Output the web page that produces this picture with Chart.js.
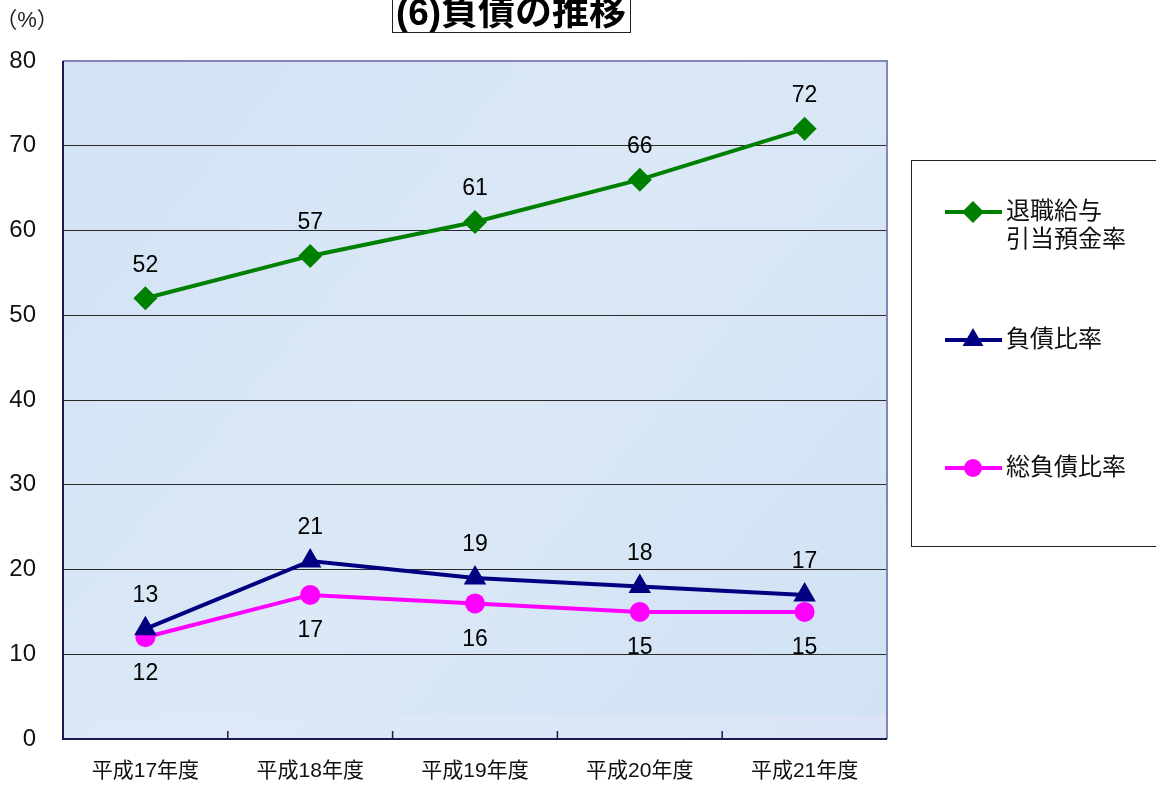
<!DOCTYPE html>
<html>
<head>
<meta charset="utf-8">
<script src="https://cdn.jsdelivr.net/npm/chart.js@4"></script>
<style>
  html, body { margin: 0; padding: 0; background: #fff; }
  #wrap { width: 1156px; height: 785px; position: relative; }
</style>
</head>
<body>
<div id="wrap"><canvas id="chart" width="1156" height="785"></canvas></div>
<script>
// data
const years = ['平成17年度', '平成18年度', '平成19年度', '平成20年度', '平成21年度'];
const retirementRate = [52, 57, 61, 66, 72];
const debtRate = [13, 21, 19, 18, 17];
const totalDebtRate = [12, 17, 16, 15, 15];
const yTicks = [0, 10, 20, 30, 40, 50, 60, 70, 80];

const NUM_FONT = '"Liberation Sans", Arial, sans-serif';
const JP_FONT = '"Liberation Sans", "Noto Sans CJK JP", sans-serif';

// series: label lines, colour, marker, label side
const series = [
    { lines: ['退職給与', '引当預金率'], data: retirementRate, color: '#008000', style: 'rectRot', radius: 12, above: true },
    { lines: ['負債比率'], data: debtRate, color: '#000080', style: 'triangle', radius: 13, above: true },
    { lines: ['総負債比率'], data: totalDebtRate, color: '#ff00ff', style: 'circle', radius: 10, above: false }
];

//  PLOT BACKGROUND
const bgPlugin = {
    id: 'bg',
    beforeDraw(chart) {
        const { ctx, chartArea: a } = chart;
        ctx.save();
        const g = ctx.createLinearGradient(a.left, a.top, a.right, a.bottom);
        g.addColorStop(0, '#d2e3f5');
        g.addColorStop(0.5, '#dbe8f6');
        g.addColorStop(1, '#d0e2f4');
        ctx.fillStyle = g;
        ctx.fillRect(a.left, a.top, a.right - a.left, a.bottom - a.top);
        // lighter band near the bottom
        ctx.fillStyle = 'rgba(225,232,248,0.5)';
        ctx.fillRect(a.left, a.bottom - 24, a.right - a.left, 24);
        ctx.restore();
    }
};

//  FRAME, TICKS, LABELS, TITLE, LEGEND
const decoPlugin = {
    id: 'deco',
    afterDatasetsDraw(chart) {
        const { ctx, chartArea: a } = chart;
        const x = chart.scales.x;
        ctx.save();

        // frame top / right
        ctx.strokeStyle = '#8484b8';
        ctx.lineWidth = 2;
        ctx.beginPath();
        ctx.moveTo(a.left, a.top);
        ctx.lineTo(a.right, a.top);
        ctx.lineTo(a.right, a.bottom);
        ctx.stroke();
        // axes left / bottom
        ctx.strokeStyle = '#1a1a50';
        ctx.beginPath();
        ctx.moveTo(a.left, a.top);
        ctx.lineTo(a.left, a.bottom);
        ctx.lineTo(a.right, a.bottom);
        ctx.stroke();

        // category tick marks between years, pointing inward
        ctx.lineWidth = 1.5;
        for (let i = 1; i < years.length; i++) {
            const px = (x.getPixelForValue(i - 1) + x.getPixelForValue(i)) / 2;
            ctx.beginPath();
            ctx.moveTo(px, a.bottom);
            ctx.lineTo(px, a.bottom - 8);
            ctx.stroke();
        }

        // data labels
        ctx.fillStyle = '#000';
        ctx.font = '23px ' + NUM_FONT;
        ctx.textAlign = 'center';
        ctx.textBaseline = 'middle';
        chart.data.datasets.forEach((ds, di) => {
            const meta = chart.getDatasetMeta(di);
            const s = series[di];
            meta.data.forEach((pt, i) => {
                const dy = s.above ? -33 : 36;
                ctx.fillText(String(ds.data[i]), pt.x, pt.y + dy);
            });
        });

        ctx.restore();
    },
    afterDraw(chart) {
        const { ctx } = chart;
        ctx.save();

        // unit
        ctx.fillStyle = '#222';
        ctx.font = '22px ' + JP_FONT;
        ctx.textAlign = 'center';
        ctx.textBaseline = 'middle';
        ctx.fillText('（%）', 27, 21);

        // title
        ctx.fillStyle = '#000';
        ctx.font = 'bold 37px ' + JP_FONT;
        ctx.textBaseline = 'alphabetic';
        ctx.fillText('(6)負債の推移', 511, 25);
        ctx.strokeStyle = '#222';
        ctx.lineWidth = 1;
        ctx.strokeRect(392.5, -5, 238, 37.5);

        // legend
        ctx.strokeRect(911.5, 160.5, 260, 386);
        const rows = [212, 340, 468];
        series.forEach((s, i) => {
            const y = rows[i];
            ctx.strokeStyle = s.color;
            ctx.lineWidth = 4;
            ctx.beginPath();
            ctx.moveTo(945, y);
            ctx.lineTo(1002, y);
            ctx.stroke();
            ctx.fillStyle = s.color;
            Chart.helpers.drawPoint(ctx, { pointStyle: s.style, radius: s.radius - 1, borderWidth: 0 }, 973, y);
            ctx.fillStyle = '#111';
            ctx.font = '24px ' + JP_FONT;
            ctx.textAlign = 'left';
            ctx.textBaseline = 'middle';
            s.lines.forEach((t, k) => ctx.fillText(t, 1006, y + k * 28));
        });

        ctx.restore();
    }
};

new Chart(document.getElementById('chart'), {
    type: 'line',
    data: {
        labels: years,
        datasets: series.map(s => ({
            label: s.lines.join(''),
            data: s.data,
            borderColor: s.color,
            backgroundColor: s.color,
            borderWidth: 4,
            pointStyle: s.style,
            pointRadius: s.radius,
            pointBorderWidth: 0,
            pointBackgroundColor: s.color,
            tension: 0,
            fill: false
        }))
    },
    options: {
        responsive: false,
        animation: false,
        devicePixelRatio: 1,
        layout: { padding: { left: 0, top: 61, right: 269, bottom: 0 } },
        plugins: {
            legend: { display: false },
            tooltip: { enabled: false },
            title: { display: false }
        },
        scales: {
            x: {
                offset: true,
                grid: { display: false, drawTicks: false },
                border: { display: false },
                ticks: { color: '#111', font: { size: 21, family: JP_FONT }, padding: 20, maxRotation: 0 },
                afterFit(scale) { scale.height = 46; }
            },
            y: {
                min: 0,
                max: 80,
                afterBuildTicks(scale) { scale.ticks = yTicks.map(v => ({ value: v })); },
                grid: {
                    color: ctx => (ctx.tick.value === 0 || ctx.tick.value === 80) ? 'rgba(0,0,0,0)' : '#2a2a2a',
                    lineWidth: 1,
                    drawTicks: false
                },
                border: { display: false },
                ticks: { color: '#111', font: { size: 24, family: NUM_FONT }, padding: 27 },
                afterFit(scale) { scale.width = 63; }
            }
        }
    },
    plugins: [bgPlugin, decoPlugin]
});
</script>
</body>
</html>
